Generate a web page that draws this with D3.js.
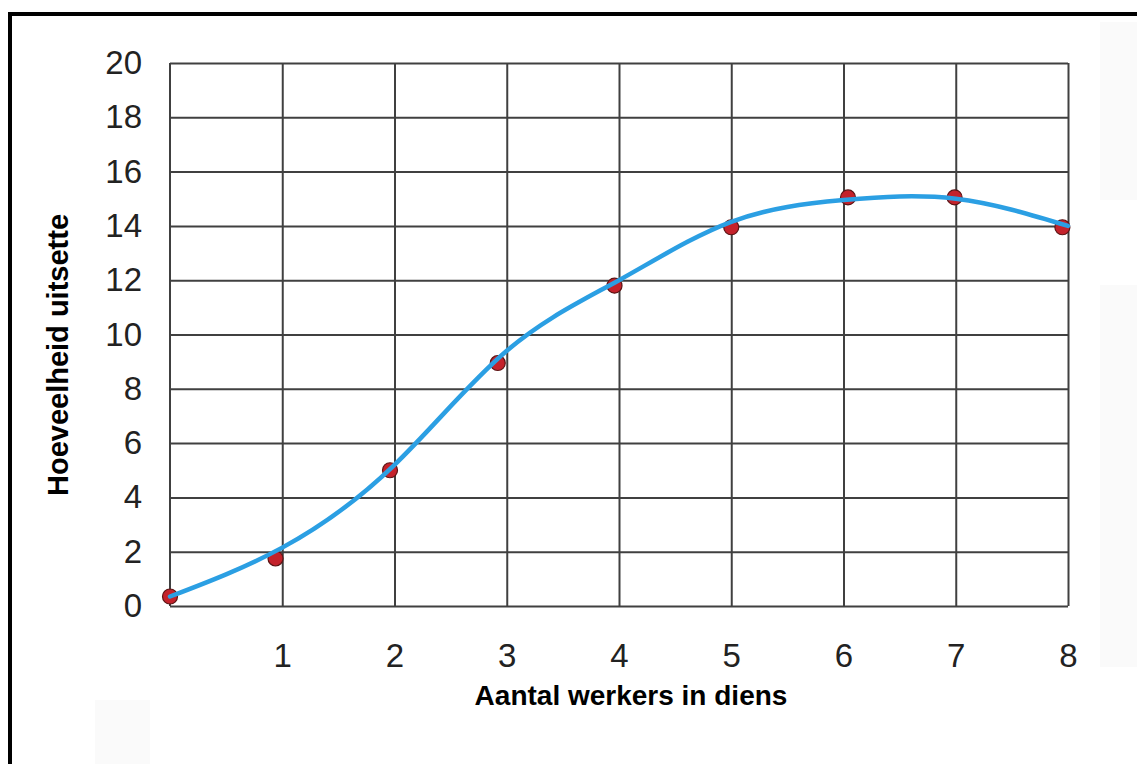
<!DOCTYPE html>
<html>
<head>
<meta charset="utf-8">
<script src="https://cdn.jsdelivr.net/npm/d3@7"></script>
<style>
  body { margin: 0; background: #fff; }
  svg { display: block; font-family: "Liberation Sans", Arial, sans-serif; }
</style>
</head>
<body>
<svg id="chart"></svg>
<script>
var width = 1137;
var height = 764;
var margin = ({top: 63, right: 69, bottom: 158, left: 170});

// measured points (red dots)
var workersX = [0, 0.94, 1.96, 2.92, 3.96, 5.0, 6.04, 6.99, 7.95];
var outputY = [0.35, 1.75, 5.0, 8.95, 11.8, 13.95, 15.05, 15.05, 13.95];

// fitted curve (blue line)
var curveX = [0, 1, 2, 3, 4, 5, 6, 7, 8];
var curveY = [0.35, 2.15, 5.2, 9.4, 12.0, 14.15, 14.95, 15.0, 14.0];

var xTicks = [1, 2, 3, 4, 5, 6, 7, 8];
var yTicks = [0, 2, 4, 6, 8, 10, 12, 14, 16, 18, 20];

var xTitle = "Aantal werkers in diens";
var yTitle = "Hoeveelheid uitsette";

var svg = d3.select("#chart")
    .attr("width", width)
    .attr("height", height);

var x = d3.scaleLinear()
    .domain([0, 8])
    .range([margin.left, width - margin.right]);

var y = d3.scaleLinear()
    .domain([0, 20])
    .range([height - margin.bottom, margin.top]);

// faint background patches from the scan
svg.append("rect").attr("x", 1100).attr("y", 22).attr("width", 37).attr("height", 178).attr("fill", "#fafafa");
svg.append("rect").attr("x", 1100).attr("y", 285).attr("width", 37).attr("height", 382).attr("fill", "#fafafa");
svg.append("rect").attr("x", 95).attr("y", 700).attr("width", 55).attr("height", 64).attr("fill", "#fafafa");

// frame
svg.append("line")
    .attr("x1", 8).attr("x2", width).attr("y1", 14).attr("y2", 14)
    .attr("stroke", "#000").attr("stroke-width", 4);
svg.append("line")
    .attr("x1", 10).attr("x2", 10).attr("y1", 12).attr("y2", height)
    .attr("stroke", "#000").attr("stroke-width", 4);

var gridColor = "#404040";

// horizontal grid + y ticks
svg.append("g")
    .attr("transform", `translate(${margin.left},0)`)
    .call(d3.axisLeft(y).tickValues(yTicks).tickSize(10).tickPadding(18))
    .call(g => g.select(".domain").remove())
    .call(g => g.selectAll(".tick line")
        .attr("x2", width - margin.right - margin.left)
        .attr("stroke", gridColor).attr("stroke-width", 2))
    .call(g => g.selectAll(".tick text")
        .attr("font-size", 33).attr("fill", "#222")
        .attr("font-family", "Liberation Sans, Arial, sans-serif"));

// vertical grid + x labels
svg.append("g")
    .attr("transform", `translate(0,${height - margin.bottom})`)
    .call(d3.axisBottom(x).tickValues(xTicks).tickSize(0).tickPadding(38))
    .call(g => g.select(".domain").remove())
    .call(g => g.selectAll(".tick line")
        .attr("y2", -(height - margin.bottom - margin.top))
        .attr("stroke", gridColor).attr("stroke-width", 2))
    .call(g => g.selectAll(".tick text")
        .attr("font-size", 33).attr("fill", "#222")
        .attr("font-family", "Liberation Sans, Arial, sans-serif"));

// left border of plot
svg.append("line")
    .attr("x1", x(0)).attr("x2", x(0))
    .attr("y1", y(20)).attr("y2", y(0))
    .attr("stroke", gridColor).attr("stroke-width", 2);

// dots
var points = workersX.map((d, i) => ({x: d, y: outputY[i]}));
svg.append("g")
    .selectAll("circle")
    .data(points)
    .join("circle")
    .attr("cx", d => x(d.x))
    .attr("cy", d => y(d.y))
    .attr("r", 7.5)
    .attr("fill", "#c4222b")
    .attr("stroke", "#5c1414")
    .attr("stroke-width", 1.2);

// curve
var line = d3.line()
    .x(d => x(d.x))
    .y(d => y(d.y))
    .curve(d3.curveNatural);

svg.append("path")
    .datum(curveX.map((d, i) => ({x: d, y: curveY[i]})))
    .attr("d", line)
    .attr("fill", "none")
    .attr("stroke", "#2b9fe3")
    .attr("stroke-width", 4.5)
    .attr("stroke-linecap", "round");

// axis titles
svg.append("text")
    .attr("x", 631)
    .attr("y", 705)
    .attr("text-anchor", "middle")
    .attr("font-size", 28)
    .attr("font-weight", "bold")
    .attr("fill", "#000")
    .text(xTitle);

svg.append("text")
    .attr("transform", "translate(68,355) rotate(-90)")
    .attr("text-anchor", "middle")
    .attr("font-size", 29)
    .attr("font-weight", "bold")
    .attr("fill", "#000")
    .text(yTitle);
</script>
</body>
</html>
